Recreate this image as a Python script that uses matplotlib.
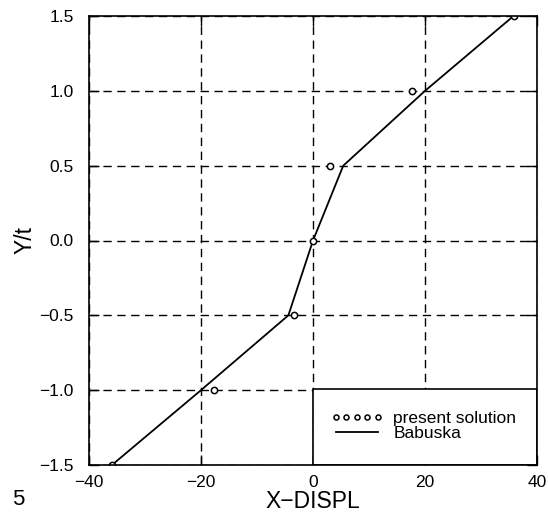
import matplotlib
matplotlib.use("Agg")
import matplotlib.pyplot as plt
from matplotlib.patches import Rectangle

# present solution (circles)
sol_x = [-35.9, -17.6, -3.4, 0.0, 3.1, 17.6, 35.8]
sol_y = [-1.5, -1.0, -0.5, 0.0, 0.5, 1.0, 1.5]

# Babuska reference curve
bab_x = [-35.9, -20.0, -4.4, 0.0, 5.4, 20.0, 35.8]
bab_y = [-1.5, -1.0, -0.5, 0.0, 0.5, 1.0, 1.5]

xticks = [-40, -20, 0, 20, 40]
yticks = [-1.5, -1.0, -0.5, 0.0, 0.5, 1.0, 1.5]

plt.rcParams['font.family'] = ['Liberation Sans', 'DejaVu Sans']
plt.rcParams['axes.unicode_minus'] = True

fig = plt.figure(figsize=(5.48, 5.2), dpi=100)
ax = fig.add_axes([0.1624, 0.1058, 0.8176, 0.8634])

ax.set_xlim(-40, 40)
ax.set_ylim(-1.5, 1.5)
ax.set_xticks(xticks)
ax.set_xticklabels([('%d' % v).replace('-', '\u2212') for v in xticks])
ax.set_yticks(yticks)
ax.set_yticklabels([('%.1f' % v).replace('-', '\u2212') for v in yticks])
ax.tick_params(direction='in', length=7, width=1, labelsize=12.5,
               top=True, right=True)
ax.tick_params(axis='y', pad=11)
ax.tick_params(axis='x', pad=7)

ax.grid(True, color='black', linestyle=(0, (6, 4)), linewidth=1.0)

ax.plot(bab_x, bab_y, color='black', linewidth=1.3, label='Babuska', zorder=3)
ax.plot(sol_x, sol_y, linestyle='none', marker='o', markersize=4.5,
        markerfacecolor='white', markeredgecolor='black', markeredgewidth=1.1,
        label='present solution', zorder=4)

# white box behind the legend
ax.add_patch(Rectangle((0, -1.5), 40, 0.51, facecolor='white',
                       edgecolor='black', linewidth=1.2, zorder=5))

h, l = ax.get_legend_handles_labels()
leg = ax.legend(h[::-1], l[::-1], loc='upper left', bbox_to_anchor=(0.52, 0.14),
                frameon=False, numpoints=5, handlelength=3.0, handletextpad=0.6,
                labelspacing=0.0, fontsize=12.5, borderpad=0, markerscale=0.8)
leg.set_zorder(6)

for s in ax.spines.values():
    s.set_linewidth(1.2)
    s.set_zorder(7)

ax.set_xlabel('X\u2212DISPL', fontsize=16.5, labelpad=0)
ax.set_ylabel('Y/t', fontsize=16.5, labelpad=2)

fig.text(0.022, 0.028, '5', fontsize=16)

fig.savefig('out.png', dpi=100)
